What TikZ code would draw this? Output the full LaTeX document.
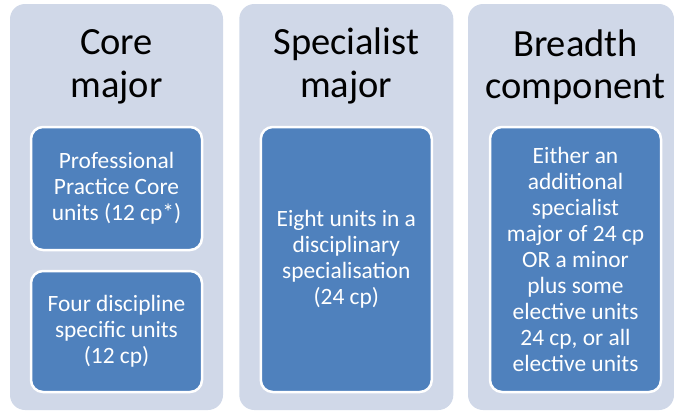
\documentclass[tikz,border=0pt]{standalone}
\usepackage{fontspec}
\setmainfont{Carlito}
\usepackage{tikz}
\usetikzlibrary{positioning}
\definecolor{paleblue}{RGB}{208,216,232}
\definecolor{unitblue}{RGB}{79,129,189}

\tikzset{
	column/.style={fill=paleblue, rounded corners=15pt, minimum height=406pt, inner sep=0pt},
	heading/.style={align=center, inner sep=0pt, font=\fontsize{38.5}{42.5}\selectfont},
	unitbox/.style={fill=unitblue, draw=white, line width=2.5pt, rounded corners=12pt,
		text=white, align=center, minimum width=171pt, inner sep=0pt,
		font=\fontsize{23.4}{26.1}\selectfont},
}

\begin{document}
\begin{tikzpicture}[x=1pt,y=-1pt]
	\useasboundingbox (0,0) rectangle (674,410);

	% Core major
	\begin{scope}[shift={(116.5,0)}]
	\node[column, minimum width=213pt] (core) at (0,207) {};
	\node[heading] (coretitle) at (0,67) {Core\\major};
	\node[unitbox, minimum height=123pt] (practice) at (0,188.5) {Professional\\Practice Core\\units (12 cp*)};
	\node[unitbox, minimum height=121pt] (discipline) at (0,331.5) {Four discipline\\specific units\\(12 cp)};
	\end{scope}

	% Specialist major
	\begin{scope}[shift={(346.3,0)}]
	\node[column, minimum width=214pt] (special) at (0,207) {};
	\node[heading] (specialtitle) at (0,66) {Specialist\\major};
	\node[unitbox, minimum height=265pt] (eight) at (0,259.5) {Eight units in a\\disciplinary\\specialisation\\(24 cp)};
	\end{scope}

	% Breadth component
	\begin{scope}[shift={(575.5,0)}]
	\node[column, minimum width=206pt] (breadth) at (-4.5,207) {};
	\node[heading] (breadthtitle) at (0,67) {Breadth\\component};
	\node[unitbox, minimum height=265pt] (either) at (0,259.5) {Either an\\additional\\specialist\\major of 24 cp\\OR a minor\\plus some\\elective units\\24 cp, or all\\elective units};
	\end{scope}

\end{tikzpicture}
\end{document}
